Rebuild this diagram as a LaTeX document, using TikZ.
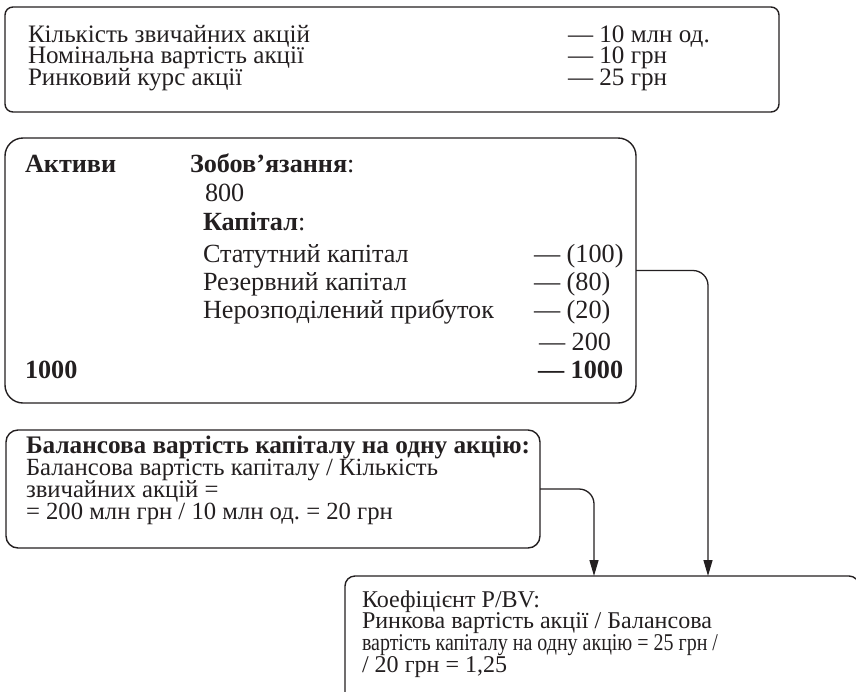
\documentclass[tikz,border=0pt]{standalone}
\usepackage{fontspec}
\usepackage{graphicx}
\setmainfont{Liberation Serif}
\usetikzlibrary{arrows.meta}
\definecolor{ink}{HTML}{231F20}
% font size that makes a sample string exactly as wide as wanted
\newlength\probewidth
\newcommand\fitsize[3]{%
  \settowidth\probewidth{\fontsize{10}{10}\selectfont #3}%
  \pgfmathsetmacro#1{10*#2/\probewidth}}
\begin{document}
\frenchspacing
\fitsize{\shareSize}{282}{Кількість звичайних акцій}%
\fitsize{\balanceSize}{291}{Нерозподілений прибуток}%
\fitsize{\bookSize}{412}{Балансова вартість капіталу / Кількість}%
\fitsize{\bookHeadSize}{504}{\bfseries Балансова вартість капіталу на одну акцію:}%
\fitsize{\ratioSize}{350}{Ринкова вартість акції / Балансова}%
\begin{tikzpicture}[x=1pt,y=-1pt,
  panel/.style={draw=ink, line width=1.4pt, inner sep=0pt, outer sep=0pt, anchor=north west},
  txt/.style={anchor=base west, inner sep=0pt, outer sep=0pt, text=ink},
  share/.style={txt, font=\fontsize{\shareSize}{20}\selectfont},
  balance/.style={txt, font=\fontsize{\balanceSize}{20}\selectfont},
  book/.style={txt, font=\fontsize{\bookSize}{20}\selectfont},
  bookhead/.style={txt, font=\fontsize{\bookHeadSize}{20}\selectfont\bfseries},
  ratio/.style={txt, font=\fontsize{\ratioSize}{20}\selectfont},
  link/.style={draw=ink, line width=1.3pt, rounded corners=15pt, -{Triangle[length=16pt,width=9pt]}},
]
\useasboundingbox (0,0) rectangle (856,691);
\begin{scope}
\clip (0,0) rectangle (856,691);

% share data
\node[panel, rounded corners=8pt, minimum width=774pt, minimum height=105pt] (b1) at (5,7) {};
\node[share] (q1) at (28,42) {Кількість звичайних акцій};
\node[share] (q2) at (28,63) {Номінальна вартість акції};
\node[share] (q3) at (28,85) {Ринковий курс акції};
\node[share] (v1) at (568,42) {— 10 млн од.};
\node[share] (v2) at (568,63) {— 10 грн};
\node[share] (v3) at (568,85) {— 25 грн};

% balance sheet
\node[panel, rounded corners=18pt, minimum width=631pt, minimum height=265pt] (b2) at (5,138) {};
\node[balance] (a0) at (25,172) {\bfseries Активи};
\node[balance] (l0) at (190,172) {\textbf{Зобов’язання}:};
\node[balance] (l1) at (205,201) {800};
\node[balance] (k0) at (203,230) {\textbf{Капітал}:};
\node[balance] (k1) at (203,262) {Статутний капітал};
\node[balance] (k2) at (203,290) {Резервний капітал};
\node[balance] (k3) at (203,318) {Нерозподілений прибуток};
\node[balance] (k1v) at (534,262) {— (100)};
\node[balance] (k2v) at (534,290) {— (80)};
\node[balance] (k3v) at (534,318) {— (20)};
\node[balance] (kt) at (539,350) {— 200};
\node[balance] (a1) at (25,378) {\bfseries 1000};
\node[balance] (lt) at (538,378) {\bfseries — 1000};

% book value per share
\node[panel, rounded corners=12pt, minimum width=534pt, minimum height=118pt] (b3) at (6,430) {};
\node[bookhead] (c0) at (26,453) {Балансова вартість капіталу на одну акцію:};
\node[book] (c1) at (26,475) {Балансова вартість капіталу / Кількість};
\node[book] (c2) at (26,497) {звичайних акцій =};
\node[book] (c3) at (26,519) {= 200 млн грн / 10 млн од. = 20 грн};

% P/BV ratio: the third line is condensed to the column width
\node[panel, rounded corners=10pt, minimum width=514pt, minimum height=150pt] (b4) at (345,576) {};
\node[ratio] (r0) at (362,607) {Коефіцієнт P/BV:};
\node[ratio] (r1) at (362,628) {Ринкова вартість акції / Балансова};
\node[ratio] (r2) at (362,650) {\resizebox{356pt}{\height}{вартість капіталу на одну акцію = 25 грн /}};
\node[ratio] (r3) at (362,672) {/ 20 грн = 1,25};

% connectors
\coordinate (x3) at (594,0);
\coordinate (x2) at (708,0);
\draw[link] (b3.east) -| (x3 |- b4.north);
\draw[link] (b2.east) -| (x2 |- b4.north);
\end{scope}
\end{tikzpicture}
\end{document}
